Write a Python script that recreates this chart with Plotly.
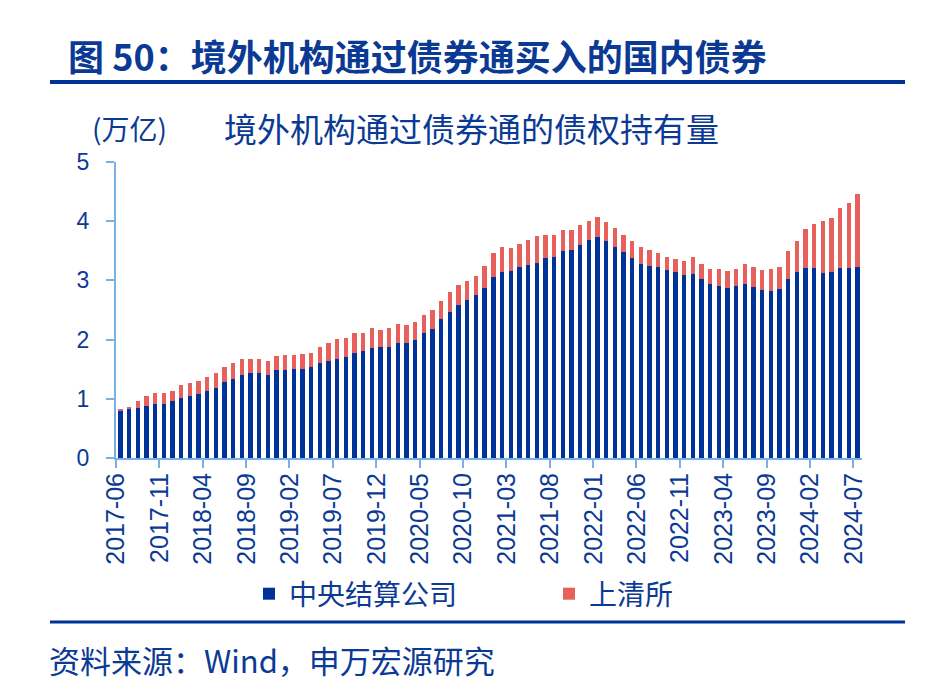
import plotly.graph_objects as go

# ---- data ----
months = [f"{2017 + (5 + i) // 12}-{(5 + i) % 12 + 1:02d}" for i in range(86)]

ccdc = [0.79, 0.83, 0.85, 0.88, 0.91, 0.92, 0.96, 1.02, 1.05, 1.08, 1.14, 1.19, 1.29, 1.34, 1.40, 1.43, 1.43, 1.41, 1.49, 1.49, 1.51,
        1.51, 1.53, 1.60, 1.64, 1.68, 1.71, 1.78, 1.80, 1.86, 1.87, 1.87, 1.94, 1.94, 1.99, 2.11, 2.18, 2.34, 2.46, 2.59, 2.67, 2.75,
        2.87, 3.06, 3.15, 3.16, 3.22, 3.26, 3.29, 3.38, 3.40, 3.50, 3.51, 3.60, 3.68, 3.73, 3.67, 3.57, 3.48, 3.38, 3.28, 3.25, 3.23,
        3.17, 3.14, 3.09, 3.11, 3.02, 2.94, 2.91, 2.87, 2.90, 2.94, 2.89, 2.84, 2.82, 2.85, 3.02, 3.14, 3.21, 3.21, 3.12, 3.14, 3.21, 3.21, 3.23]

shch = [0.04, 0.04, 0.11, 0.17, 0.18, 0.17, 0.18, 0.21, 0.22, 0.22, 0.23, 0.24, 0.24, 0.27, 0.28, 0.25, 0.25, 0.23, 0.23, 0.25, 0.23,
        0.25, 0.24, 0.27, 0.31, 0.33, 0.31, 0.33, 0.32, 0.33, 0.30, 0.33, 0.32, 0.31, 0.31, 0.31, 0.32, 0.32, 0.34, 0.34, 0.32, 0.33,
        0.38, 0.41, 0.41, 0.39, 0.39, 0.42, 0.46, 0.39, 0.37, 0.35, 0.34, 0.33, 0.32, 0.34, 0.32, 0.31, 0.28, 0.28, 0.28, 0.26, 0.24,
        0.23, 0.23, 0.23, 0.28, 0.25, 0.26, 0.29, 0.29, 0.29, 0.33, 0.34, 0.33, 0.37, 0.38, 0.47, 0.53, 0.66, 0.74, 0.88, 0.91, 1.01, 1.10, 1.23]

series_names = ["中央结算公司", "上清所"]
y_ticks = [0, 1, 2, 3, 4, 5]

title_text = "图 50：境外机构通过债券通买入的国内债券"
unit_text = "(万亿)"
subtitle_text = "境外机构通过债券通的债权持有量"
source_text = "资料来源：Wind，申万宏源研究"

# ---- style ----
BLUE = "#003399"
RED = "#E8605C"
TXT = "#0B3A94"
AXIS = "#7AB0E2"
CJK = "Noto Sans CJK SC"
LAT = "Liberation Sans, Arial"

OFF = 8  # page body margin offset
W, H = 933, 691
L, R, T, B = 116 - OFF, W - (862 - OFF), 162 - OFF, H - (458 - OFF)
pw, ph = W - L - R, H - T - B


def px(x):
    return (x - OFF - L) / pw


def py(y):
    return (H - B - (y - OFF)) / ph


fig = go.Figure()
fig.add_trace(go.Bar(x=months, y=ccdc, name=series_names[0], marker=dict(color=BLUE, line=dict(width=0))))
fig.add_trace(go.Bar(x=months, y=shch, name=series_names[1], marker=dict(color=RED, line=dict(width=0))))

fig.update_layout(
    width=W, height=H,
    margin=dict(l=L, r=R, t=T, b=B, autoexpand=False),
    paper_bgcolor="white", plot_bgcolor="white",
    barmode="stack", bargap=0.5,
    showlegend=True,
    legend=dict(orientation="h", x=px(249), y=py(594), xanchor="left", yanchor="middle",
                font=dict(family=CJK, size=28, color=TXT), entrywidth=255, entrywidthmode="pixels",
                itemwidth=30, bgcolor="rgba(0,0,0,0)", traceorder="normal"),
    title=dict(text=title_text, x=(68 - OFF) / W, xref="container", xanchor="left",
               y=1 - (58 - OFF) / H, yref="container", yanchor="middle",
               font=dict(family=CJK, size=36, color=TXT, weight="bold")),
)

fig.update_xaxes(
    type="category", tickmode="linear", tick0=0, dtick=5, tickson="boundaries",
    tickangle=-90, ticks="outside", ticklen=8, tickwidth=2, tickcolor=AXIS,
    showline=True, linecolor=AXIS, linewidth=2, showgrid=False, zeroline=False,
    tickfont=dict(family=LAT, size=25, color=TXT), ticklabelshift=-4, ticklabelstandoff=3,
)
fig.update_yaxes(
    range=[0, 5], tickmode="array", tickvals=y_ticks,
    ticks="outside", ticklen=8, tickwidth=2, tickcolor=AXIS,
    showline=True, linecolor=AXIS, linewidth=2, showgrid=False, zeroline=False,
    tickfont=dict(family=LAT, size=23, color=TXT), ticklabelstandoff=12,
)

fig.add_annotation(text=unit_text, xref="paper", yref="paper", x=px(90), y=py(128),
                   xanchor="left", yanchor="middle", showarrow=False,
                   font=dict(family=CJK, size=28, color=TXT))
fig.add_annotation(text=subtitle_text, xref="paper", yref="paper", x=px(222), y=py(128),
                   xanchor="left", yanchor="middle", showarrow=False,
                   font=dict(family=CJK, size=33, color=TXT))
fig.add_annotation(text=source_text, xref="paper", yref="paper", x=px(47), y=py(659),
                   xanchor="left", yanchor="middle", showarrow=False,
                   font=dict(family=CJK, size=31, color=TXT))

fig.add_shape(type="line", xref="paper", yref="paper", x0=px(50), x1=px(905), y0=py(82), y1=py(82),
              line=dict(color=BLUE, width=4))
fig.add_shape(type="line", xref="paper", yref="paper", x0=px(50), x1=px(905), y0=py(622), y1=py(622),
              line=dict(color=BLUE, width=3))

fig.write_html("out.html")
